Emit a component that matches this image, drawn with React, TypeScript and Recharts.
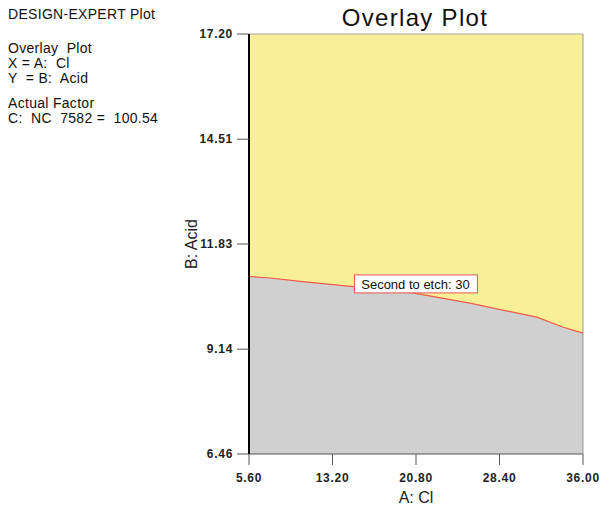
import React from 'react';
import {
  ComposedChart,
  Area,
  XAxis,
  YAxis,
  CartesianGrid,
  ReferenceLine,
  ReferenceDot,
} from 'recharts';

// A: Cl along the boundary
const clValues = [5.6, 7.5, 10.5, 15.1, 20.5, 25.7, 28.7, 31.8, 34.2, 36.0];
// B: Acid where seconds to etch = 30
const acidValues = [11.0, 10.96, 10.87, 10.74, 10.58, 10.32, 10.14, 9.96, 9.7, 9.55];

const xTicks = [5.6, 13.2, 20.8, 28.4, 36.0];
const yTicks = [6.46, 9.14, 11.83, 14.51, 17.2];

const infoLines = ['Overlay  Plot', 'X = A:  Cl', 'Y  = B:  Acid'];
const factorLines = ['Actual Factor', 'C:  NC  7582 =  100.54'];

const FONT = '"Liberation Sans", Arial, sans-serif';

const data = clValues.map((x, i) => ({ x, acid: acidValues[i] }));

const XTick = (props: any) => {
  const { x, y, payload } = props;
  return (
    <text x={x} y={y + 15} textAnchor="middle" fontSize={12} fontWeight="bold" fill="#222" fontFamily={FONT} letterSpacing={0.7}>
      {payload.value.toFixed(2)}
    </text>
  );
};

const YTick = (props: any) => {
  const { x, y, payload } = props;
  return (
    <text x={x - 2} y={y + 4} textAnchor="end" fontSize={12} fontWeight="bold" fill="#222" fontFamily={FONT} letterSpacing={0.7}>
      {payload.value.toFixed(2)}
    </text>
  );
};

const ContourLabel = (props: any) => {
  const { cx, cy } = props;
  return (
    <g>
      <rect x={cx - 61} y={cy - 9} width={123} height={18} fill="#fff" stroke="#e8584e" strokeWidth={1} />
      <text x={cx} y={cy + 5} textAnchor="middle" fontSize={13} fill="#111" fontFamily={FONT}>
        Second to etch: 30
      </text>
    </g>
  );
};

const InfoText = ({ x, y, children }: { x: number; y: number; children: string }) => (
  <text x={x} y={y} fontSize={14} fill="#111" fontFamily={FONT} letterSpacing={0.3} xmlSpace="preserve" style={{ whiteSpace: 'pre' }}>
    {children}
  </text>
);

const App: React.FC = () => {
  return (
    <div style={{ position: 'absolute', left: 0, top: 0, width: 600, height: 512, background: '#fff', fontFamily: FONT }}>
      <svg width={600} height={512} style={{ position: 'absolute', left: 0, top: 0 }}>
        <InfoText x={8} y={19}>DESIGN-EXPERT Plot</InfoText>
        {infoLines.map((t, i) => (
          <InfoText key={t} x={8} y={53 + i * 15}>{t}</InfoText>
        ))}
        {factorLines.map((t, i) => (
          <InfoText key={t} x={8} y={108 + i * 15}>{t}</InfoText>
        ))}
        <text x={415} y={26} textAnchor="middle" fontSize={24} fill="#111" fontFamily={FONT} letterSpacing={1.3}>Overlay Plot</text>
      </svg>
      <div style={{ position: 'absolute', left: 0, top: 0 }}>
        <ComposedChart width={600} height={512} data={data} margin={{ top: 34, right: 17, bottom: 28, left: 189 }}>
          <CartesianGrid fill="#f8ef96" horizontal={false} vertical={false} stroke="none" />
          <XAxis
            type="number"
            dataKey="x"
            domain={[5.6, 36]}
            ticks={xTicks}
            height={30}
            tick={<XTick />}
            tickSize={11}
            tickLine={{ stroke: '#555' }}
            axisLine={{ stroke: '#555', strokeWidth: 1 }}
            label={{ value: 'A: Cl', position: 'bottom', offset: 8, fontSize: 16, fill: '#222', fontFamily: FONT }}
          />
          <YAxis
            type="number"
            domain={[6.46, 17.2]}
            ticks={yTicks}
            width={60}
            tick={<YTick />}
            tickSize={12}
            tickLine={{ stroke: '#555' }}
            axisLine={{ stroke: '#000', strokeWidth: 2 }}
            label={{ value: 'B: Acid', angle: -90, position: 'insideLeft', offset: 2, fontSize: 16, fill: '#222', fontFamily: FONT, style: { textAnchor: 'middle' } }}
          />
          <Area
            type="linear"
            dataKey="acid"
            baseValue={6.46}
            fill="#d0d0d0"
            fillOpacity={1}
            stroke="#ee5a4c"
            strokeWidth={1.2}
            isAnimationActive={false}
            dot={false}
            activeDot={false}
          />
          <ReferenceLine y={17.2} stroke="#aaa" />
          <ReferenceLine x={36} stroke="#999" />
          <ReferenceDot x={20.75} y={10.81} r={0} shape={<ContourLabel />} />
        </ComposedChart>
      </div>
    </div>
  );
};

export default App;
